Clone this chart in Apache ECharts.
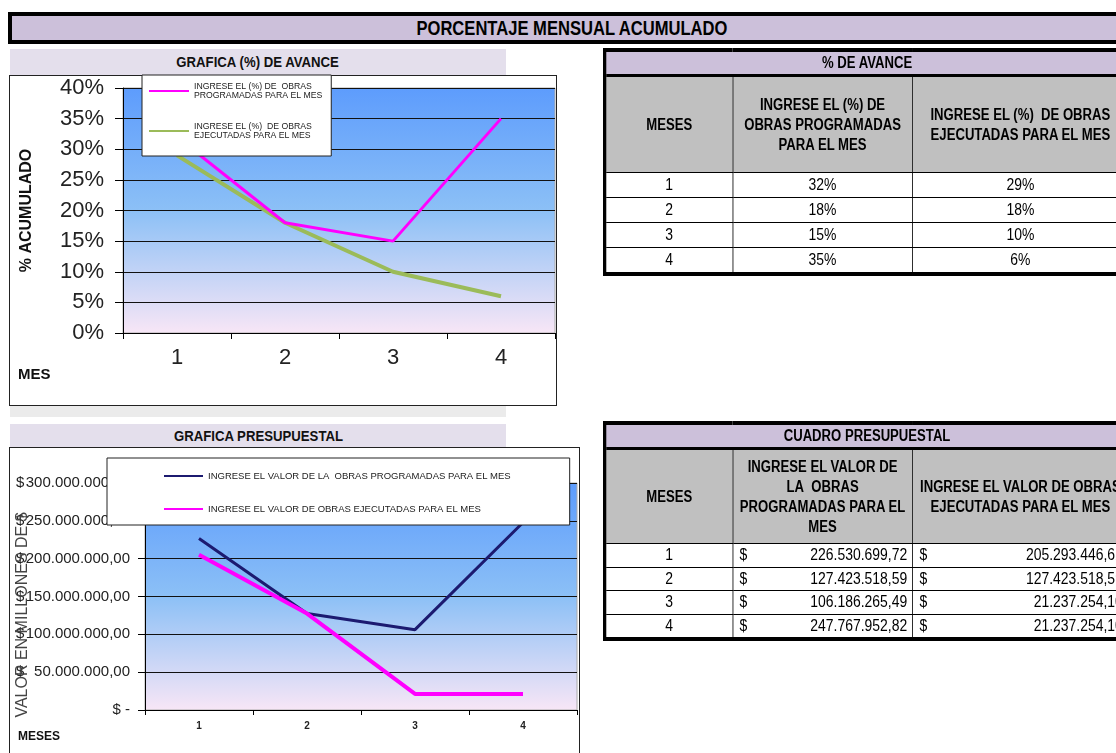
<!DOCTYPE html>
<html>
<head>
<meta charset="utf-8">
<script src="https://cdn.jsdelivr.net/npm/echarts@6/dist/echarts.min.js"></script>
<style>
  html,body{margin:0;padding:0;background:#fff;}
  #wrap{position:relative;width:1116px;height:753px;overflow:hidden;background:#fff;font-family:"Liberation Sans",Arial,sans-serif;}
  .abs{position:absolute;}
  .sx{display:inline-block;transform:scaleX(0.85);transform-origin:center;white-space:nowrap;}
  #banner{left:8px;top:12px;width:1120px;height:24px;border:4px solid #000;background:#ccc0da;
          font-weight:bold;font-size:19.5px;line-height:24px;text-align:center;color:#000;}
  .band{background:#e4dfec;font-weight:bold;font-size:15.5px;text-align:center;color:#111;}
  .box{border:1.5px solid #222;background:#fff;}
  #chart{position:absolute;left:0;top:0;width:1116px;height:753px;z-index:2;}
  table.tb{position:absolute;border-collapse:collapse;border:4.5px solid #000;table-layout:fixed;z-index:3;color:#000;
           width:640px;transform:scaleX(0.82);transform-origin:left top;}
  table.tb td{border:1.2px solid #000;padding:0;text-align:center;overflow:hidden;white-space:nowrap;}
  table.tb tr.ttl td{background:#ccc0da;font-weight:bold;font-size:16px;border-bottom:3px solid #000;}
  table.tb tr.hdr td{background:#c0c0c0;font-weight:bold;font-size:16px;line-height:20px;}
  table.tb tr.dat td{font-size:17px;background:#fff;}
  table.tb td.money{text-align:right;padding-right:6px;}
  table.tb td.money span.cur{float:left;padding-left:8px;}
</style>
</head>
<body>
<div id="wrap">
  <div id="banner" class="abs"><span class="sx">PORCENTAJE MENSUAL ACUMULADO</span></div>

  <div class="abs band" style="left:10px;top:49px;width:496px;height:26px;line-height:26px;"><span class="sx">GRAFICA (%) DE AVANCE</span></div>
  <div class="abs box" style="left:9px;top:75px;width:546px;height:329px;"></div>
  <div class="abs" style="left:10px;top:406px;width:496px;height:11px;background:#ebebeb;"></div>

  <div class="abs band" style="left:10px;top:424px;width:496px;height:23px;line-height:23px;"><span class="sx">GRAFICA PRESUPUESTAL</span></div>
  <div class="abs box" style="left:9px;top:447px;width:569px;height:330px;"></div>

  <table id="t1" class="tb" style="left:603px;top:48px;"></table>
  <table id="t2" class="tb" style="left:603px;top:421px;"></table>

  <div id="chart"></div>
</div>
<script>
// ---------- DATA ----------
var meses = ['1', '2', '3', '4'];
var avanceProgramado = [0.32, 0.18, 0.15, 0.35];
var avanceEjecutado = [0.29, 0.18, 0.10, 0.06];
var presuProgramado = [226530699.72, 127423518.59, 106186265.49, 247767952.82];
var presuEjecutado = [205293446.62, 127423518.59, 21237254.10, 21237254.10];

var nameAvProg = 'INGRESE EL (%) DE  OBRAS\nPROGRAMADAS PARA EL MES';
var nameAvEjec = 'INGRESE EL (%)  DE OBRAS\nEJECUTADAS PARA EL MES';
var namePrProg = 'INGRESE EL VALOR DE LA  OBRAS PROGRAMADAS PARA EL MES';
var namePrEjec = 'INGRESE EL VALOR DE OBRAS EJECUTADAS PARA EL MES';

// ---------- helpers ----------
function money(n) {
  var s = n.toFixed(2).split('.');
  var ip = s[0].replace(/\B(?=(\d{3})+(?!\d))/g, '.');
  return ip + ',' + s[1];
}
function pct(v) { return Math.round(v * 100) + '%'; }

// ---------- tables ----------
(function () {
  var colg = '<colgroup><col style="width:156px"><col style="width:219.5px"><col style="width:264.5px"></colgroup>';
  var h1 = colg +
    '<tr class="ttl"><td colspan="3" style="height:22px">% DE AVANCE</td></tr>' +
    '<tr class="hdr"><td style="height:95px">MESES</td><td>INGRESE EL (%) DE<br>OBRAS PROGRAMADAS<br>PARA EL MES</td>' +
    '<td>INGRESE EL (%)&nbsp; DE OBRAS<br>EJECUTADAS PARA EL MES</td></tr>';
  for (var i = 0; i < meses.length; i++) {
    h1 += '<tr class="dat"><td style="height:24px">' + meses[i] + '</td><td>' + pct(avanceProgramado[i]) +
      '</td><td>' + pct(avanceEjecutado[i]) + '</td></tr>';
  }
  document.getElementById('t1').innerHTML = h1;

  var h2 = colg +
    '<tr class="ttl"><td colspan="3" style="height:22px">CUADRO PRESUPUESTAL</td></tr>' +
    '<tr class="hdr"><td style="height:93px">MESES</td><td>INGRESE EL VALOR DE<br>LA&nbsp; OBRAS<br>PROGRAMADAS PARA EL<br>MES</td>' +
    '<td>INGRESE EL VALOR DE OBRAS<br>EJECUTADAS PARA EL MES</td></tr>';
  for (var j = 0; j < meses.length; j++) {
    h2 += '<tr class="dat"><td style="height:22.6px">' + meses[j] + '</td>' +
      '<td class="money"><span class="cur">$</span>' + money(presuProgramado[j]) + '</td>' +
      '<td class="money"><span class="cur">$</span>' + money(presuEjecutado[j]) + '</td></tr>';
  }
  document.getElementById('t2').innerHTML = h2;
})();

// ---------- chart ----------
var chart = echarts.init(document.getElementById('chart'), null, { renderer: 'canvas' });
var FONT = '"Liberation Sans", Arial, sans-serif';
function grad(c0, c1, c2) {
  return { type: 'linear', x: 0, y: 0, x2: 0, y2: 1,
    colorStops: [{ offset: 0, color: c0 }, { offset: 0.5, color: c1 }, { offset: 1, color: c2 }] };
}
var option = {
  animation: false,
  backgroundColor: 'transparent',
  textStyle: { fontFamily: FONT },
  grid: [
    { left: 123, top: 88, width: 432, height: 245, show: true, borderWidth: 1, borderColor: '#aaa',
      backgroundColor: grad('#5d9cfd', '#8cc0f6', '#f8e6f6') },
    { left: 145, top: 483, width: 432, height: 227, show: true, borderWidth: 1, borderColor: '#aaa',
      backgroundColor: grad('#5d9cfd', '#8cc0f6', '#f8e6f6') }
  ],
  xAxis: [
    { type: 'category', gridIndex: 0, data: meses, boundaryGap: true,
      axisLine: { lineStyle: { color: '#000', width: 1 } },
      axisTick: { show: true, length: 6, lineStyle: { color: '#000' } },
      axisLabel: { margin: 14, fontSize: 22, color: '#222', fontFamily: FONT } },
    { type: 'category', gridIndex: 1, data: meses, boundaryGap: true,
      axisLine: { lineStyle: { color: '#000', width: 1 } },
      axisTick: { show: true, length: 5, lineStyle: { color: '#000' } },
      axisLabel: { margin: 11, fontSize: 10, fontWeight: 'bold', color: '#222', fontFamily: FONT } }
  ],
  yAxis: [
    { type: 'value', gridIndex: 0, min: 0, max: 0.4, interval: 0.05,
      name: '% ACUMULADO', nameLocation: 'middle', nameRotate: 90, nameGap: 88,
      nameTextStyle: { fontSize: 16, fontWeight: 'bold', color: '#111', fontFamily: FONT },
      axisLine: { show: true, lineStyle: { color: '#000' } },
      axisTick: { show: true, length: 8, lineStyle: { color: '#000' } },
      splitLine: { show: true, lineStyle: { color: '#111', width: 1 } },
      axisLabel: { margin: 19, fontSize: 22, color: '#222', fontFamily: FONT,
        formatter: function (v) { return Math.round(v * 100) + '%'; } } },
    { type: 'value', gridIndex: 1, min: 0, max: 300000000, interval: 50000000,
      axisLine: { show: true, lineStyle: { color: '#000' } },
      axisTick: { show: true, length: 7, lineStyle: { color: '#000' } },
      splitLine: { show: true, lineStyle: { color: '#111', width: 1 } },
      axisLabel: { margin: 15, color: '#222', fontFamily: FONT, fontSize: 15,
        formatter: function (v) { return v === 0 ? '{z|$ -}' : '{c|$}{n|' + money(v) + '}'; },
        rich: {
          z: { fontSize: 15, color: '#222', fontFamily: FONT },
          c: { fontSize: 15, color: '#222', fontFamily: FONT, width: 8, align: 'left' },
          n: { fontSize: 15, color: '#222', fontFamily: FONT, width: 106, align: 'right' }
        } } }
  ],
  legend: [
    { orient: 'vertical', left: 142, top: 75, padding: [7, 9, 16, 7], itemGap: 22,
      itemWidth: 40, itemHeight: 2, icon: 'rect',
      backgroundColor: '#fff', borderColor: '#222', borderWidth: 1,
      data: [nameAvProg, nameAvEjec],
      textStyle: { fontSize: 8.7, lineHeight: 9, color: '#222', fontFamily: FONT } },
    { orient: 'vertical', left: 107, top: 458, padding: [13, 59, 11, 57], itemGap: 23,
      itemWidth: 39, itemHeight: 2, icon: 'rect',
      backgroundColor: '#fff', borderColor: '#222', borderWidth: 1,
      data: [namePrProg, namePrEjec],
      textStyle: { fontSize: 9.5, lineHeight: 10, color: '#222', fontFamily: FONT } }
  ],
  graphic: [
    { type: 'text', left: 18, top: 367, z: 10,
      style: { text: 'MES', font: 'bold 15px "Liberation Sans", Arial, sans-serif', fill: '#111' } },
    { type: 'text', left: 18, top: 731, z: 10,
      style: { text: 'MESES', font: 'bold 12px "Liberation Sans", Arial, sans-serif', fill: '#111' } },
    { type: 'text', x: 23, y: 615, rotation: Math.PI / 2, z: 10,
      style: { text: 'VALOR EN MILLONES DE $', align: 'center', verticalAlign: 'middle',
        font: '16px "Liberation Sans", Arial, sans-serif', fill: '#444' } }
  ],
  series: [
    { name: nameAvProg, type: 'line', xAxisIndex: 0, yAxisIndex: 0, data: avanceProgramado,
      symbol: 'none', color: '#ff00ff', lineStyle: { color: '#ff00ff', width: 3 }, z: 3 },
    { name: nameAvEjec, type: 'line', xAxisIndex: 0, yAxisIndex: 0, data: avanceEjecutado,
      symbol: 'none', color: '#9bbb59', lineStyle: { color: '#9bbb59', width: 4 }, z: 2 },
    { name: namePrProg, type: 'line', xAxisIndex: 1, yAxisIndex: 1, data: presuProgramado,
      symbol: 'none', color: '#1c1a70', lineStyle: { color: '#1c1a70', width: 3 }, z: 2 },
    { name: namePrEjec, type: 'line', xAxisIndex: 1, yAxisIndex: 1, data: presuEjecutado,
      symbol: 'none', color: '#ff00ff', lineStyle: { color: '#ff00ff', width: 4 }, z: 3 }
  ]
};
chart.setOption(option);
</script>
</body>
</html>
